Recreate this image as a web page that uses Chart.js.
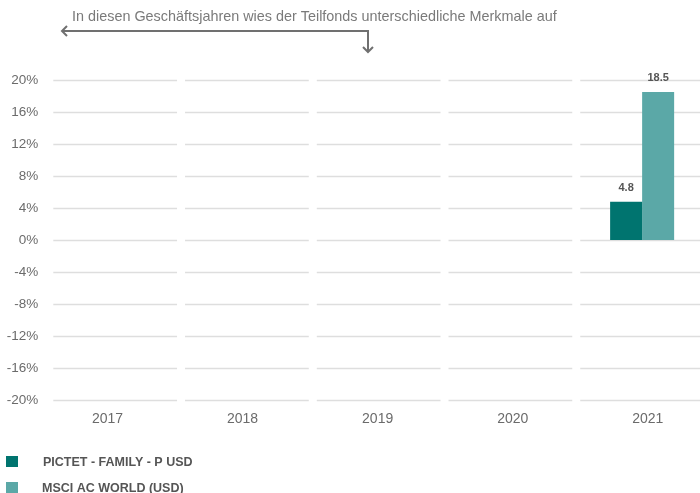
<!DOCTYPE html>
<html>
<head>
<meta charset="utf-8">
<script src="https://cdn.jsdelivr.net/npm/chart.js@4"></script>
<style>
  html, body { margin: 0; padding: 0; background: #fff; overflow: hidden; }
  #wrap { width: 708px; height: 493px; position: relative; }
</style>
</head>
<body>
<div id="wrap"><canvas id="perfChart"></canvas></div>
<script>
// Jahreswerte Teilfonds vs. Index
const years = ['2017', '2018', '2019', '2020', '2021'];
const fundValues = [null, null, null, null, 4.8];
const indexValues = [null, null, null, null, 18.5];
const yTicks = [-20, -16, -12, -8, -4, 0, 4, 8, 12, 16, 20];

const fundLabel = 'PICTET - FAMILY - P USD';
const indexLabel = 'MSCI AC WORLD (USD)';
const noteText = 'In diesen Geschäftsjahren wies der Teilfonds unterschiedliche Merkmale auf';

const FONT = '"Liberation Sans", Arial, sans-serif';

// Gitterlinien je Kategorie als einzelne Segmente
const segmentGrid = {
  id: 'segmentGrid',
  beforeDatasetsDraw(chart) {
    const { ctx } = chart;
    const x = chart.scales.x;
    const y = chart.scales.y;
    const catW = x.width / years.length;
    ctx.save();
    ctx.strokeStyle = '#dedede';
    ctx.lineWidth = 1.6;
    yTicks.forEach(t => {
      const py = Math.round(y.getPixelForValue(t)) + 0.5;
      years.forEach((_, i) => {
        const cx = x.getPixelForValue(i);
        ctx.beginPath();
        ctx.moveTo(cx - catW / 2 + 4, py);
        ctx.lineTo(cx + catW / 2 - 4, py);
        ctx.stroke();
      });
    });
    ctx.restore();
  }
};

// Werte über den Balken, Hinweis oben, Legende unten
const extras = {
  id: 'extras',
  afterDraw(chart) {
    const { ctx } = chart;
    ctx.save();

    // Datenbeschriftung
    ctx.font = 'bold 11px ' + FONT;
    ctx.fillStyle = '#555';
    ctx.textAlign = 'center';
    ctx.textBaseline = 'middle';
    chart.data.datasets.forEach((ds, di) => {
      chart.getDatasetMeta(di).data.forEach((bar, i) => {
        const v = ds.data[i];
        if (v === null) return;
        ctx.fillText(v.toFixed(1), bar.x, bar.y - 14);
      });
    });

    // Hinweis mit Pfeil
    ctx.font = '14.4px ' + FONT;
    ctx.fillStyle = '#7a7a7a';
    ctx.textAlign = 'left';
    ctx.textBaseline = 'alphabetic';
    ctx.fillText(noteText, 72, 21);

    ctx.strokeStyle = '#707070';
    ctx.lineWidth = 2;
    ctx.beginPath();
    ctx.moveTo(62, 31);
    ctx.lineTo(368, 31);
    ctx.lineTo(368, 52);
    ctx.stroke();
    ctx.beginPath();
    ctx.moveTo(67, 26);
    ctx.lineTo(62, 31);
    ctx.lineTo(67, 36);
    ctx.moveTo(363, 47);
    ctx.lineTo(368, 52);
    ctx.lineTo(373, 47);
    ctx.stroke();

    // Legende
    ctx.font = 'bold 12.5px ' + FONT;
    ctx.textBaseline = 'middle';
    const rows = [456, 482];
    chart.data.datasets.forEach((ds, di) => {
      ctx.fillStyle = ds.backgroundColor;
      ctx.fillRect(6, rows[di], 12, 11);
      ctx.fillStyle = '#555';
      ctx.fillText(ds.label, 43 - di, rows[di] + 6.5);
    });

    ctx.restore();
  }
};

new Chart(document.getElementById('perfChart'), {
  type: 'bar',
  data: {
    labels: years,
    datasets: [
      {
        label: fundLabel,
        data: fundValues,
        backgroundColor: '#00746f',
        categoryPercentage: 0.486,
        barPercentage: 1.0
      },
      {
        label: indexLabel,
        data: indexValues,
        backgroundColor: '#5ba8a7',
        categoryPercentage: 0.486,
        barPercentage: 1.0
      }
    ]
  },
  options: {
    responsive: true,
    maintainAspectRatio: false,
    animation: false,
    layout: { padding: { top: 80, bottom: 54, left: 0, right: 0 } },
    plugins: {
      legend: { display: false },
      tooltip: { enabled: false }
    },
    scales: {
      x: {
        display: false,
        grid: { display: false }
      },
      xLabels: {
        type: 'linear',
        position: 'bottom',
        offset: false,
        bounds: 'data',
        min: -0.431,
        max: 4.446,
        afterBuildTicks: s => { s.ticks = years.map((_, i) => ({ value: i })); },
        afterDataLimits: s => { s.min = -0.431; s.max = 4.446; },
        grid: { display: false, drawTicks: false, offset: false },
        border: { display: false },
        ticks: {
          padding: 11,
          color: '#6b6b6b',
          font: { family: FONT, size: 14 },
          callback: (v, i) => years[i]
        }
      },
      y: {
        min: -20,
        max: 20,
        afterBuildTicks: s => { s.ticks = yTicks.map(v => ({ value: v })); },
        afterFit: s => { s.width = 49.3; },
        grid: { display: false, drawTicks: false },
        border: { display: false },
        ticks: {
          padding: 11,
          color: '#6b6b6b',
          font: { family: FONT, size: 13.5 },
          callback: v => v + '%'
        }
      }
    }
  },
  plugins: [segmentGrid, extras]
});
</script>
</body>
</html>
